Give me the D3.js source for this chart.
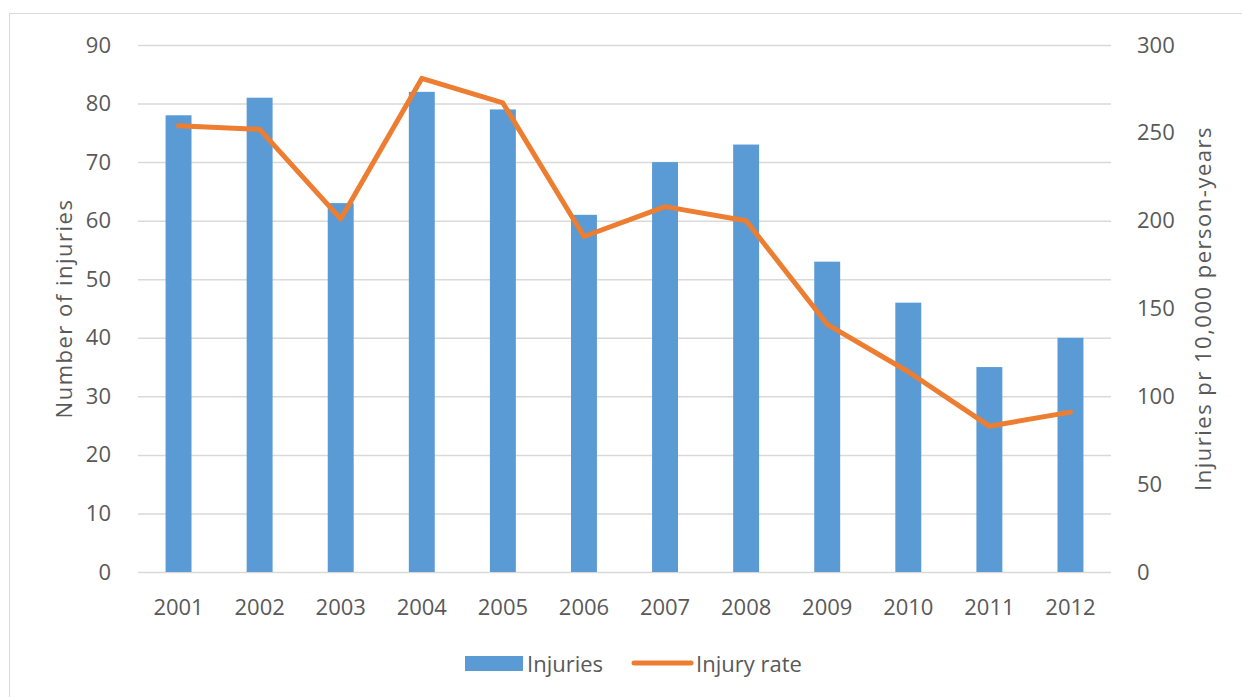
<!DOCTYPE html>
<html>
<head>
<meta charset="utf-8">
<script src="https://cdn.jsdelivr.net/npm/d3@7"></script>
<style>
  body { margin: 0; background: #fff; }
  svg { display: block; font-family: "Open Sans", sans-serif; }
</style>
</head>
<body>
<svg id="chart" width="1242" height="697"></svg>
<script>
var years = ["2001","2002","2003","2004","2005","2006","2007","2008","2009","2010","2011","2012"];
var injuries = [78, 81, 63, 82, 79, 61, 70, 73, 53, 46, 35, 40];
var injuryRate = [254, 252, 201, 281, 267, 191, 208, 200, 141, 114, 83, 91];
var leftTicks = [0, 10, 20, 30, 40, 50, 60, 70, 80, 90];
var rightTicks = [0, 50, 100, 150, 200, 250, 300];

var svg = d3.select("#chart");
var textColor = "#595959";
var barColor = "#5b9bd5";
var lineColor = "#ed7d31";
var fontSize = "22px";

var plot = {left: 138, right: 1111, top: 45, bottom: 572};

// outer frame
svg.append("rect")
  .attr("x", 9.5).attr("y", 13.5)
  .attr("width", 1300).attr("height", 800)
  .attr("fill", "none")
  .attr("stroke", "#d9d9d9")
  .attr("stroke-width", 1);

var xScale = d3.scaleBand()
  .domain(years)
  .range([plot.left, plot.right]);

var yLeft = d3.scaleLinear().domain([0, 90]).range([plot.bottom, plot.top]);
var yRight = d3.scaleLinear().domain([0, 300]).range([plot.bottom, plot.top]);

function styleLabels(g) {
  g.select(".domain").remove();
  g.selectAll("text").attr("fill", textColor).style("font-size", fontSize)
    .attr("font-family", "Open Sans");
}

// gridlines
svg.append("g")
  .attr("class", "grid")
  .attr("transform", "translate(" + plot.left + ",0)")
  .call(d3.axisLeft(yLeft).tickValues(leftTicks).tickSize(-(plot.right - plot.left)).tickFormat(""))
  .call(function(g) {
    g.select(".domain").remove();
    g.selectAll("line").attr("stroke", "#d9d9d9").attr("stroke-width", 1.5);
  });

// left axis labels
svg.append("g")
  .attr("transform", "translate(" + (plot.left - 24) + ",0)")
  .call(d3.axisLeft(yLeft).tickValues(leftTicks).tickSize(0))
  .call(styleLabels);

// right axis labels
svg.append("g")
  .attr("transform", "translate(" + (plot.right + 23) + ",0)")
  .call(d3.axisRight(yRight).tickValues(rightTicks).tickSize(0))
  .call(styleLabels);

// x axis labels
svg.append("g")
  .attr("transform", "translate(0," + plot.bottom + ")")
  .call(d3.axisBottom(xScale).tickSize(0).tickPadding(27))
  .call(styleLabels);

// bars
var barW = xScale.bandwidth() * 0.32;
svg.append("g").selectAll("rect").data(injuries).enter()
  .append("rect")
  .attr("x", function(d, i) { return xScale(years[i]) + xScale.bandwidth() / 2 - barW / 2; })
  .attr("y", function(d) { return yLeft(d); })
  .attr("width", barW)
  .attr("height", function(d) { return plot.bottom - yLeft(d); })
  .attr("fill", barColor);

// rate line
var line = d3.line()
  .x(function(d, i) { return xScale(years[i]) + xScale.bandwidth() / 2; })
  .y(function(d) { return yRight(d); });

svg.append("path")
  .datum(injuryRate)
  .attr("d", line)
  .attr("fill", "none")
  .attr("stroke", lineColor)
  .attr("stroke-width", 5)
  .attr("stroke-linejoin", "round")
  .attr("stroke-linecap", "round");

// axis titles
svg.append("text")
  .attr("transform", "translate(72," + ((plot.top + plot.bottom) / 2) + ") rotate(-90)")
  .attr("text-anchor", "middle")
  .attr("fill", textColor)
  .style("font-size", fontSize)
  .style("letter-spacing", "1.5px")
  .text("Number of injuries");

svg.append("text")
  .attr("transform", "translate(1211," + ((plot.top + plot.bottom) / 2) + ") rotate(-90)")
  .attr("text-anchor", "middle")
  .attr("fill", textColor)
  .style("font-size", fontSize)
  .style("letter-spacing", "1.5px")
  .text("Injuries pr 10,000 person-years");

// legend
var legend = svg.append("g");
legend.append("rect")
  .attr("x", 465).attr("y", 656)
  .attr("width", 58).attr("height", 15)
  .attr("fill", barColor);
legend.append("text")
  .attr("x", 527).attr("y", 664)
  .attr("dy", "0.35em")
  .attr("fill", textColor)
  .style("font-size", fontSize)
  .text("Injuries");
legend.append("line")
  .attr("x1", 634).attr("x2", 691)
  .attr("y1", 663).attr("y2", 663)
  .attr("stroke", lineColor)
  .attr("stroke-width", 5)
  .attr("stroke-linecap", "round");
legend.append("text")
  .attr("x", 696).attr("y", 664)
  .attr("dy", "0.35em")
  .attr("fill", textColor)
  .style("font-size", fontSize)
  .text("Injury rate");
</script>
</body>
</html>
